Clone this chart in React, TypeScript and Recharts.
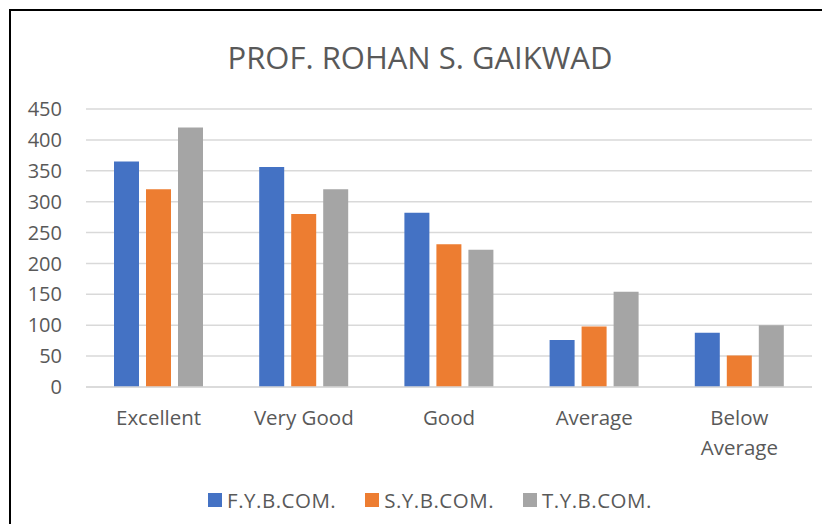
import React from "react";
import { Bar, BarChart, CartesianGrid, Legend, XAxis, YAxis } from "recharts";

const categories = ["Excellent", "Very Good", "Good", "Average", "Below Average"];
const fyValues = [365, 356, 282, 76, 88];
const syValues = [320, 280, 231, 98, 51];
const tyValues = [420, 320, 222, 154, 100];
const yTicks = [0, 50, 100, 150, 200, 250, 300, 350, 400, 450];

const seriesNames = ["F.Y.B.COM.", "S.Y.B.COM.", "T.Y.B.COM."];
const seriesColors = ["#4472C4", "#ED7D31", "#A5A5A5"];

const data = categories.map((name, i) => ({
  name,
  fy: fyValues[i],
  sy: syValues[i],
  ty: tyValues[i]
}));

const textColor = "#595959";
const font = "'Open Sans', 'Noto Sans', sans-serif";

function CategoryTick({ x, y, payload }: any) {
  const label: string = payload.value;
  const lines = label.length > 12 ? label.split(" ") : [label];
  return (
    <text x={x} y={y} textAnchor="middle" fill={textColor} fontSize={20.5} fontFamily={font}>
      {lines.map((line, i) => (
        <tspan key={i} x={x} dy={i === 0 ? 32 : 30}>
          {line}
        </tspan>
      ))}
    </text>
  );
}

function LegendContent({ payload }: any) {
  return (
    <div
      style={{
        display: "flex",
        justifyContent: "center",
        gap: 29,
        fontFamily: font,
        fontSize: 20.5,
        letterSpacing: 0.5,
        color: textColor
      }}
    >
      {(payload ?? []).map((item: any) => (
        <div key={item.value} style={{ display: "flex", alignItems: "center", gap: 5 }}>
          <span style={{ display: "inline-block", width: 14, height: 14, background: item.color }} />
          <span>{item.value}</span>
        </div>
      ))}
    </div>
  );
}

export default function App() {
  return (
    <div style={{ position: "relative", width: 830, height: 532, margin: -8, overflow: "hidden", background: "#fff" }}>
      <div style={{ position: "absolute", left: 9, top: 9, width: 900, height: 600, border: "2px solid #000" }} />
      <div
        style={{
          position: "absolute",
          left: 0,
          top: 35,
          width: 840,
          textAlign: "center",
          fontFamily: font,
          fontSize: 31,
          color: textColor,
          lineHeight: "44px"
        }}
      >
        PROF. ROHAN S. GAIKWAD
      </div>
      <div style={{ position: "absolute", left: 0, top: 0 }}>
        <BarChart
          width={830}
          height={532}
          data={data}
          margin={{ top: 109, right: 18, bottom: 0, left: 0 }}
          barSize={25}
          barGap={7}
        >
          <CartesianGrid stroke="#D9D9D9" strokeWidth={1.5} vertical={false} />
          <XAxis
            dataKey="name"
            height={145}
            axisLine={{ stroke: "#D9D9D9", strokeWidth: 1.5 }}
            tickLine={false}
            tickMargin={0}
            interval={0}
            tick={<CategoryTick />}
          />
          <YAxis
            width={86}
            domain={[0, 450]}
            ticks={yTicks}
            axisLine={false}
            tickLine={false}
            tickMargin={18}
            tick={{ fill: textColor, fontSize: 20, fontFamily: font }}
          />
          <Legend
            verticalAlign="middle"
            align="center"
            content={<LegendContent />}
            wrapperStyle={{ left: 0, top: 486, width: 860 }}
          />
          <Bar dataKey="fy" name={seriesNames[0]} fill={seriesColors[0]} isAnimationActive={false} />
          <Bar dataKey="sy" name={seriesNames[1]} fill={seriesColors[1]} isAnimationActive={false} />
          <Bar dataKey="ty" name={seriesNames[2]} fill={seriesColors[2]} isAnimationActive={false} />
        </BarChart>
      </div>
    </div>
  );
}
